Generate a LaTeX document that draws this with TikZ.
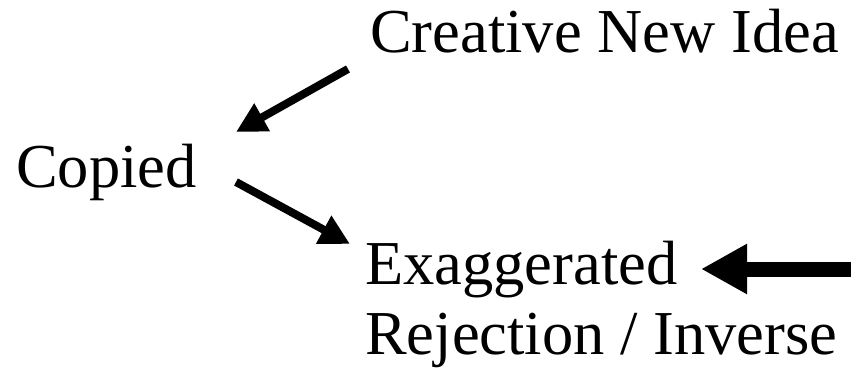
\documentclass[tikz,border=0pt]{standalone}
\usepackage{fontspec}
\setmainfont{Liberation Serif}
\usetikzlibrary{arrows.meta}
\begin{document}
\begin{tikzpicture}[x=1pt,y=-1pt,
  lbl/.style={anchor=base west,inner sep=0pt,font=\fontsize{62.5}{70}\selectfont},
  thinarrow/.style={line width=8pt,-{Triangle[length=30pt,width=30pt]}},
  thickarrow/.style={line width=15pt,-{Triangle[length=46pt,width=47pt]}}]
\useasboundingbox (0,0) rectangle (851,374);
\node[lbl] (creative) at (370,53) {Creative New Idea};
\node[lbl] (copied) at (16,188) {Copied};
\node[lbl] (exag) at (365,284) {Exaggerated};
\node[lbl] (rej) at (365,354) {Rejection / Inverse};
\coordinate (a1s) at (348,69);
\coordinate (a1e) at (236,132);
\coordinate (a2s) at (236,182);
\coordinate (a2e) at (350,244);
\coordinate (a3s) at (851,269);
\coordinate (a3e) at (701,269);
\draw[thinarrow] (a1s) -- (a1e);
\draw[thinarrow] (a2s) -- (a2e);
\draw[thickarrow] (a3s) -- (a3e);
\end{tikzpicture}
\end{document}
